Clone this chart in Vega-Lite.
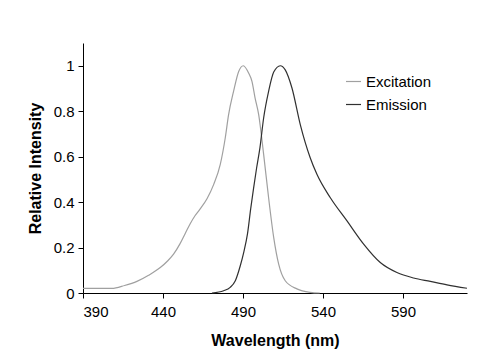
{
  "$schema": "https://vega.github.io/schema/vega-lite/v6.json",
  "width": 384,
  "height": 250,
  "autosize": "none",
  "padding": {"left": 83, "top": 43, "right": 33, "bottom": 65},
  "background": "white",
  "config": {
    "view": {"stroke": null},
    "font": "Liberation Sans",
    "axis": {"grid": false, "domainColor": "#000000", "tickColor": "#000000", "tickSize": 5, "labelFont": "Liberation Sans", "labelFontSize": 15, "labelColor": "#000000", "titleFont": "Liberation Sans", "titleFontSize": 16, "titleFontWeight": "bold", "titleColor": "#000000", "domainWidth": 1, "tickWidth": 1}
  },
  "data": {
    "values": [
      {"nm": 390, "v": 0.02, "s": "Excitation"},
      {"nm": 400, "v": 0.02, "s": "Excitation"},
      {"nm": 408, "v": 0.02, "s": "Excitation"},
      {"nm": 416, "v": 0.033, "s": "Excitation"},
      {"nm": 423.7, "v": 0.051, "s": "Excitation"},
      {"nm": 431, "v": 0.078, "s": "Excitation"},
      {"nm": 438.3, "v": 0.112, "s": "Excitation"},
      {"nm": 443, "v": 0.142, "s": "Excitation"},
      {"nm": 446.6, "v": 0.171, "s": "Excitation"},
      {"nm": 450.5, "v": 0.215, "s": "Excitation"},
      {"nm": 453.9, "v": 0.262, "s": "Excitation"},
      {"nm": 457, "v": 0.305, "s": "Excitation"},
      {"nm": 460, "v": 0.34, "s": "Excitation"},
      {"nm": 463, "v": 0.368, "s": "Excitation"},
      {"nm": 467.5, "v": 0.415, "s": "Excitation"},
      {"nm": 471.7, "v": 0.478, "s": "Excitation"},
      {"nm": 475.8, "v": 0.566, "s": "Excitation"},
      {"nm": 478.9, "v": 0.682, "s": "Excitation"},
      {"nm": 481, "v": 0.785, "s": "Excitation"},
      {"nm": 484.1, "v": 0.887, "s": "Excitation"},
      {"nm": 487.3, "v": 0.975, "s": "Excitation"},
      {"nm": 490.2, "v": 1.0, "s": "Excitation"},
      {"nm": 493.5, "v": 0.968, "s": "Excitation"},
      {"nm": 495.6, "v": 0.931, "s": "Excitation"},
      {"nm": 497.5, "v": 0.86, "s": "Excitation"},
      {"nm": 499.8, "v": 0.785, "s": "Excitation"},
      {"nm": 502.9, "v": 0.61, "s": "Excitation"},
      {"nm": 506, "v": 0.419, "s": "Excitation"},
      {"nm": 509.2, "v": 0.244, "s": "Excitation"},
      {"nm": 512.3, "v": 0.127, "s": "Excitation"},
      {"nm": 516.4, "v": 0.054, "s": "Excitation"},
      {"nm": 523.7, "v": 0.018, "s": "Excitation"},
      {"nm": 532, "v": 0.003, "s": "Excitation"},
      {"nm": 538, "v": 0.0, "s": "Excitation"},
      {"nm": 470.6, "v": 0.0, "s": "Emission"},
      {"nm": 477.9, "v": 0.01, "s": "Emission"},
      {"nm": 482, "v": 0.025, "s": "Emission"},
      {"nm": 485.2, "v": 0.054, "s": "Emission"},
      {"nm": 488.3, "v": 0.12, "s": "Emission"},
      {"nm": 490.5, "v": 0.18, "s": "Emission"},
      {"nm": 492.8, "v": 0.26, "s": "Emission"},
      {"nm": 494.8, "v": 0.37, "s": "Emission"},
      {"nm": 496.6, "v": 0.46, "s": "Emission"},
      {"nm": 498.5, "v": 0.55, "s": "Emission"},
      {"nm": 500.6, "v": 0.64, "s": "Emission"},
      {"nm": 502.9, "v": 0.77, "s": "Emission"},
      {"nm": 506, "v": 0.887, "s": "Emission"},
      {"nm": 509.2, "v": 0.972, "s": "Emission"},
      {"nm": 513.3, "v": 1.0, "s": "Emission"},
      {"nm": 516.4, "v": 0.982, "s": "Emission"},
      {"nm": 520.6, "v": 0.902, "s": "Emission"},
      {"nm": 525.8, "v": 0.741, "s": "Emission"},
      {"nm": 532, "v": 0.595, "s": "Emission"},
      {"nm": 536.2, "v": 0.522, "s": "Emission"},
      {"nm": 544.6, "v": 0.419, "s": "Emission"},
      {"nm": 555, "v": 0.317, "s": "Emission"},
      {"nm": 565.4, "v": 0.215, "s": "Emission"},
      {"nm": 575.8, "v": 0.134, "s": "Emission"},
      {"nm": 586.2, "v": 0.09, "s": "Emission"},
      {"nm": 596.6, "v": 0.066, "s": "Emission"},
      {"nm": 607.1, "v": 0.051, "s": "Emission"},
      {"nm": 617.5, "v": 0.036, "s": "Emission"},
      {"nm": 630, "v": 0.021, "s": "Emission"}
    ]
  },
  "mark": {"type": "line", "strokeWidth": 1.2, "interpolate": "monotone"},
  "encoding": {
    "x": {"field": "nm", "type": "quantitative", "title": "Wavelength (nm)",
      "scale": {"domain": [390, 630], "nice": false, "zero": false},
      "axis": {"values": [390, 440, 490, 540, 590], "labelPadding": 6, "titlePadding": 13}},
    "y": {"field": "v", "type": "quantitative", "title": "Relative Intensity",
      "scale": {"domain": [0, 1.1], "nice": false},
      "axis": {"values": [0, 0.2, 0.4, 0.6, 0.8, 1], "format": "~g", "labelPadding": 4, "titlePadding": 10}},
    "color": {"field": "s", "type": "nominal", "sort": ["Excitation", "Emission"],
      "scale": {"domain": ["Excitation", "Emission"], "range": ["#a0a0a0", "#303030"]},
      "legend": {"title": null, "orient": "none", "legendX": 262, "legendY": 30, "symbolType": "stroke", "symbolSize": 225, "symbolStrokeWidth": 1.2, "labelFont": "Liberation Sans", "labelFontSize": 15, "labelColor": "#000000", "labelOffset": 4, "rowPadding": 6}},
    "order": {"field": "nm", "type": "quantitative"}
  }
}
